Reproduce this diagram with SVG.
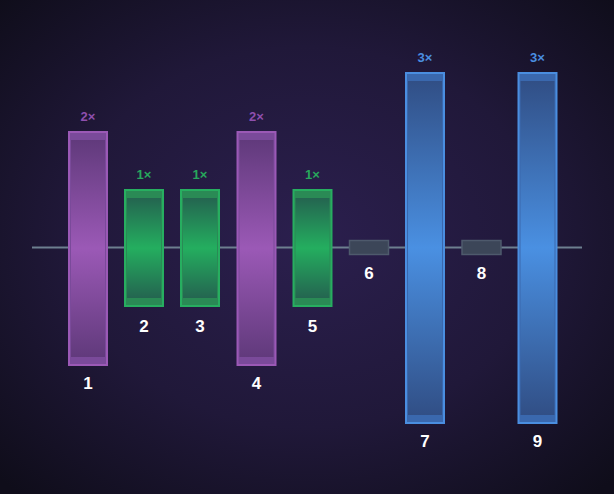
<svg xmlns="http://www.w3.org/2000/svg" width="614" height="494" viewBox="0 0 614 494">
<defs>
<radialGradient id="bg" cx="50%" cy="48%" r="70%">
<stop offset="0" stop-color="#2b1f4e"/>
<stop offset="0.55" stop-color="#201839"/>
<stop offset="1" stop-color="#0f0d1a"/>
</radialGradient>
<linearGradient id="gp" x1="0" y1="0" x2="0" y2="1">
<stop offset="0" stop-color="#613a7c"/>
<stop offset="0.5" stop-color="#9b59b6"/>
<stop offset="1" stop-color="#613a7c"/>
</linearGradient>
<linearGradient id="gg" x1="0" y1="0" x2="0" y2="1">
<stop offset="0" stop-color="#246550"/>
<stop offset="0.5" stop-color="#24ae5f"/>
<stop offset="1" stop-color="#246550"/>
</linearGradient>
<linearGradient id="gb" x1="0" y1="0" x2="0" y2="1">
<stop offset="0" stop-color="#314f86"/>
<stop offset="0.5" stop-color="#4a90e2"/>
<stop offset="1" stop-color="#314f86"/>
</linearGradient>
<style>
.num{font-family:"Liberation Sans",Arial,sans-serif;font-weight:bold;font-size:17px;fill:#ffffff;text-anchor:middle}
.mul{font-family:"Liberation Sans",Arial,sans-serif;font-weight:bold;font-size:13px;text-anchor:middle}
.p .o{fill:#7a4a9a;stroke:#9b59b6;stroke-width:2}
.p .i{fill:url(#gp)}
.p .mul{fill:#8e4fae}
.g .o{fill:#2a8a55;stroke:#27ae60;stroke-width:2}
.g .i{fill:url(#gg)}
.g .mul{fill:#27a85c}
.b .o{fill:#3a68ae;stroke:#4a8ee0;stroke-width:2}
.b .i{fill:url(#gb)}
.b .mul{fill:#4a8ee0}
.s .o{fill:#3c4658;stroke:#4e5a6c;stroke-width:1.5}
</style>
</defs>
<rect width="614" height="494" fill="url(#bg)"/>
<g id="connectors">
<line x1="32" y1="247.5" x2="582" y2="247.5" stroke="#6d7f8f" stroke-width="2"/>
</g>
<g id="n1" class="p">
<rect class="o" x="69" y="132" width="38" height="233"/>
<rect class="i" x="71" y="140" width="34" height="217"/>
<text class="mul" x="88" y="121">2×</text>
<text class="num" x="88" y="389">1</text>
</g>
<g id="n2" class="g">
<rect class="o" x="125" y="190" width="38" height="116"/>
<rect class="i" x="127" y="198" width="34" height="100"/>
<text class="mul" x="144" y="179">1×</text>
<text class="num" x="144" y="332">2</text>
</g>
<g id="n3" class="g">
<rect class="o" x="181" y="190" width="38" height="116"/>
<rect class="i" x="183" y="198" width="34" height="100"/>
<text class="mul" x="200" y="179">1×</text>
<text class="num" x="200" y="332">3</text>
</g>
<g id="n4" class="p">
<rect class="o" x="237.5" y="132" width="38" height="233"/>
<rect class="i" x="239.5" y="140" width="34" height="217"/>
<text class="mul" x="256.5" y="121">2×</text>
<text class="num" x="256.5" y="389">4</text>
</g>
<g id="n5" class="g">
<rect class="o" x="293.5" y="190" width="38" height="116"/>
<rect class="i" x="295.5" y="198" width="34" height="100"/>
<text class="mul" x="312.5" y="179">1×</text>
<text class="num" x="312.5" y="332">5</text>
</g>
<g id="n6" class="s">
<rect class="o" x="349.5" y="240.5" width="39" height="14"/>
<text class="num" x="369" y="279">6</text>
</g>
<g id="n7" class="b">
<rect class="o" x="406" y="73" width="38" height="350"/>
<rect class="i" x="408" y="81" width="34" height="334"/>
<text class="mul" x="425" y="62">3×</text>
<text class="num" x="425" y="447">7</text>
</g>
<g id="n8" class="s">
<rect class="o" x="462" y="240.5" width="39" height="14"/>
<text class="num" x="481.5" y="279">8</text>
</g>
<g id="n9" class="b">
<rect class="o" x="518.5" y="73" width="38" height="350"/>
<rect class="i" x="520.5" y="81" width="34" height="334"/>
<text class="mul" x="537.5" y="62">3×</text>
<text class="num" x="537.5" y="447">9</text>
</g>
</svg>
